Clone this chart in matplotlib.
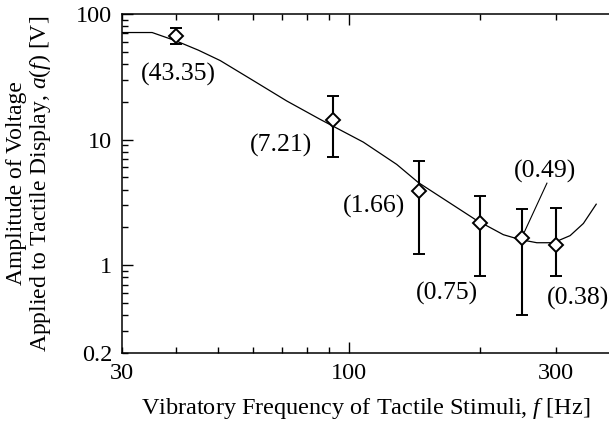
import matplotlib
matplotlib.use("Agg")
import matplotlib.pyplot as plt
from matplotlib.ticker import FixedLocator, FuncFormatter

plt.rcParams['font.family'] = ['Liberation Serif', 'DejaVu Serif']
plt.rcParams['mathtext.fontset'] = 'custom'
plt.rcParams['mathtext.rm'] = 'Liberation Serif'
plt.rcParams['mathtext.it'] = 'Liberation Serif:italic'

# measured data points (frequency [Hz], amplitude [V])
freq = [40, 92, 145, 200, 250, 300]
amp = [66.5, 14.4, 3.9, 2.15, 1.66, 1.46]
amp_hi = [76.7, 22.2, 6.77, 3.56, 2.79, 2.86]
amp_lo = [58.2, 7.28, 1.22, 0.817, 0.40, 0.817]
labels = ['(43.35)', '(7.21)', '(1.66)', '(0.75)', '(0.49)', '(0.38)']

# fitted curve
curve_f = [30, 35.2, 40.0, 45.0, 50.5, 60.2, 71.9, 85.8, 107.9, 128.8, 144.5, 167.9,
           195.9, 226.8, 247.9, 270.9, 295.8, 323.2, 346.8, 371.2]
curve_a = [71.2, 71.2, 61.0, 51.5, 42.6, 29.5, 20.3, 14.5, 9.55, 6.35, 4.55, 3.25,
           2.3, 1.75, 1.6, 1.51, 1.51, 1.72, 2.15, 3.06]

# label positions (data coords)
label_f = [40.5, 69.7, 114.2, 168.3, 283, 336.3]
label_a = [33.3, 9.05, 2.91, 0.596, 5.62, 0.545]
leader_f = [285.8, 253.6]
leader_a = [4.50, 1.84]

x_tick_labels = {30: '30', 100: '100', 300: '300'}
y_tick_labels = {0.2: '0.2', 1: '1', 10: '10', 100: '100'}

fig = plt.figure(figsize=(6.09, 4.30), dpi=100)
ax = fig.add_axes([122/609, 77/430, 488.3/609, 339/430])
ax.set_xscale('log')
ax.set_yscale('log')

ax.plot(curve_f, curve_a, color='black', lw=0.9)
yerr = [[a - l for a, l in zip(amp, amp_lo)], [h - a for a, h in zip(amp, amp_hi)]]
ax.errorbar(freq, amp, yerr=yerr, fmt='D', ms=7.6, mfc='white', mec='black',
            mew=1.4, ecolor='black', elinewidth=1.5, capsize=4, capthick=1.5,
            zorder=3)
for x, y, t in zip(label_f, label_a, labels):
    ax.text(x, y, t, ha='center', va='center', fontsize=18.5)
ax.plot(leader_f, leader_a, color='black', lw=0.8)

ax.set_xlim(30, 400)
ax.set_ylim(0.2, 100)

ax.xaxis.set_major_locator(FixedLocator([100]))
ax.xaxis.set_minor_locator(FixedLocator([30, 40, 50, 60, 70, 80, 90, 200, 300]))
ax.xaxis.set_major_formatter(FuncFormatter(lambda v, p: x_tick_labels.get(round(v), '')))
ax.xaxis.set_minor_formatter(FuncFormatter(lambda v, p: x_tick_labels.get(round(v), '')))

ax.yaxis.set_major_locator(FixedLocator([1, 10, 100]))
ax.yaxis.set_minor_locator(FixedLocator([0.2, 0.3, 0.4, 0.5, 0.6, 0.7, 0.8, 0.9,
                                         2, 3, 4, 5, 6, 7, 8, 9,
                                         20, 30, 40, 50, 60, 70, 80, 90]))
def yfmt(v, p):
    for k, s in y_tick_labels.items():
        if abs(v - k) < 1e-6 * k:
            return s
    return ''
ax.yaxis.set_major_formatter(FuncFormatter(yfmt))
ax.yaxis.set_minor_formatter(FuncFormatter(yfmt))

ax.tick_params(which='both', direction='in', top=True, right=False,
               labelsize=17.5, width=1.0, pad=7)
ax.tick_params(which='major', length=8)
ax.tick_params(which='minor', length=4.5)

for s in ['left', 'bottom', 'top']:
    ax.spines[s].set_linewidth(1.1)
ax.spines['right'].set_visible(False)

ax.set_xlabel('Vibratory Frequency of Tactile Stimuli, $f$ [Hz]', fontsize=17.5)
ax.set_ylabel('Amplitude of Voltage\nApplied to Tactile Display, $a(f)$ [V]',
              fontsize=17, linespacing=1.0)
ax.yaxis.set_label_coords(-0.141, 0.5)
ax.xaxis.set_label_coords(0.5, -0.128)

fig.savefig('out.png', dpi=100)
